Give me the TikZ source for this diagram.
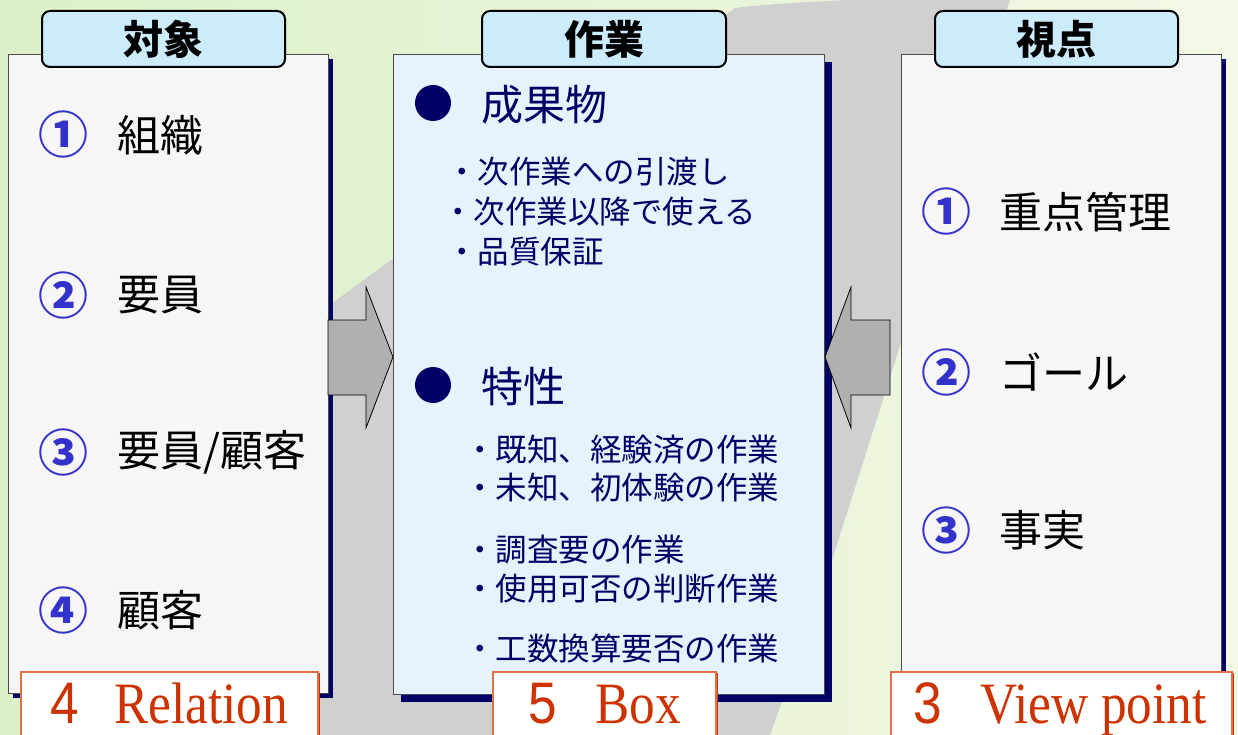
\documentclass[tikz,border=0pt]{standalone}
\usepackage{fontspec}
\newfontfamily\jp{Noto Sans CJK JP}
\newfontfamily\lserif{Liberation Serif}
\newfontfamily\lsans{Liberation Sans}
\definecolor{navy}{RGB}{0,0,102}
\definecolor{tabblue}{RGB}{204,236,252}
\definecolor{numblue}{RGB}{51,51,204}
\definecolor{panelgray}{RGB}{246,246,246}
\definecolor{panelblue}{RGB}{230,242,252}
\definecolor{bandgray}{RGB}{208,208,208}
\definecolor{lblred}{RGB}{204,51,0}
\definecolor{lblorange}{RGB}{230,110,70}
\definecolor{arrowgray}{RGB}{176,176,176}
\definecolor{bgleft}{RGB}{220,240,200}
\definecolor{bgright}{RGB}{242,248,230}
\tikzset{
  panel/.style={draw=black!70, line width=1pt, anchor=north west, inner sep=0},
  tabbox/.style={draw=black, line width=2pt, fill=tabblue, rounded corners=8pt, anchor=north west, inner sep=0, font=\jp\bfseries\fontsize{40}{44}\selectfont},
  num/.style={anchor=center, inner sep=0, text=numblue, font=\jp\bfseries\fontsize{50}{54}\selectfont},
  item/.style={anchor=west, inner sep=0, text=black, font=\jp\fontsize{43}{48}\selectfont},
  head/.style={anchor=west, inner sep=0, text=navy, font=\jp\fontsize{42}{46}\selectfont},
  sub/.style={anchor=west, inner sep=0, text=navy, font=\jp\fontsize{31.5}{36}\selectfont},
  dotmark/.style={circle, fill=navy, inner sep=0, minimum size=36pt},
  lblbox/.style={draw=lblorange, line width=1.5pt, fill=white, anchor=north west, inner sep=0},
  lblnum/.style={anchor=base west, inner sep=0, text=lblred, font=\lsans\fontsize{48}{52}\selectfont},
  lbltxt/.style={anchor=base west, inner sep=0, text=lblred, font=\lserif\fontsize{48}{52}\selectfont},
  blockarrow/.style={draw=black, line width=0.8pt, fill=arrowgray, line join=miter}
}
\newcommand{\tallr}[1]{\scalebox{1.07}[1.22]{#1}}
\begin{document}
\begin{tikzpicture}[x=1pt,y=-1pt]
\useasboundingbox (0,0) rectangle (1238,735);
% background
\shade[left color=bgleft, right color=bgright] (0,0) rectangle (1238,735);
\fill[bandgray] (735,8) .. controls (800,0) and (950,-5) .. (1010,0) -- (832,560) -- (770,735) -- (200,735) -- (200,400) -- cycle;

% shadows
\fill[navy] (13,59) rectangle (333,698);
\fill[navy] (401,62) rectangle (832,702);
\fill[navy] (906,59) rectangle (1226,695);

% panels
\node[panel, fill=panelgray, minimum width=320pt, minimum height=639pt] (L) at (8,54) {};
\node[panel, fill=panelblue, minimum width=431pt, minimum height=640pt] (M) at (393,54) {};
\node[panel, fill=panelgray, minimum width=320pt, minimum height=636pt] (R) at (901,54) {};

% tabs
\node[tabbox, minimum width=243pt, minimum height=56pt] (tL) at (41,10) {対象};
\node[tabbox, minimum width=244pt, minimum height=56pt] (tM) at (481,10) {作業};
\node[tabbox, minimum width=243pt, minimum height=56pt] (tR) at (934,10) {視点};

% block arrows
\draw[blockarrow] (328,320) -- (366,320) -- (366,287) -- (M.west |- 0,357) -- (366,428) -- (366,395) -- (328,395) -- cycle;
\draw[blockarrow] (890,320) -- (851,320) -- (851,287) -- (M.east |- 0,357) -- (851,428) -- (851,395) -- (890,395) -- cycle;

% left items
\node[num] (ln1) at (63,135) {①};
\node[item] (li1) at (117,135) {組織};
\node[num] (ln2) at (63,295) {②};
\node[item] (li2) at (117,295) {要員};
\node[num] (ln3) at (63,452) {③};
\node[item] (li3) at (117,452) {要員/顧客};
\node[num] (ln4) at (63,610) {④};
\node[item] (li4) at (117,610) {顧客};

% middle
\node[dotmark] (d1) at (433,103) {};
\node[head] (h1) at (481,105) {成果物};
\node[sub] (s1) at (446,172) {・次作業への引渡し};
\node[sub] (s2) at (442,212) {・次作業以降で使える};
\node[sub] (s3) at (446,252) {・品質保証};
\node[dotmark] (d2) at (433,385) {};
\node[head] (h2) at (481,387) {特性};
\node[sub] (s4) at (464,450) {・既知、経験済の作業};
\node[sub] (s5) at (464,488) {・未知、初体験の作業};
\node[sub] (s6) at (464,550) {・調査要の作業};
\node[sub] (s7) at (464,589) {・使用可否の判断作業};
\node[sub] (s8) at (464,648) {・工数換算要否の作業};

% right items
\node[num] (rn1) at (946,212) {①};
\node[item] (ri1) at (999,212) {重点管理};
\node[num] (rn2) at (946,372) {②};
\node[item] (ri2) at (999,372) {ゴール};
\node[num] (rn3) at (946,530) {③};
\node[item] (ri3) at (999,530) {事実};

% bottom labels
\fill[lblred] (317,673) rectangle (320,740);
\fill[lblred] (715,673) rectangle (718,740);
\fill[lblred] (1231,673) rectangle (1234,740);
\node[lblbox, minimum width=297pt, minimum height=70pt] (bL) at (20,671) {};
\node[lblbox, minimum width=223pt, minimum height=70pt] (bM) at (492,671) {};
\node[lblbox, minimum width=341pt, minimum height=70pt] (bR) at (890,671) {};
\node[lblnum] (bLn) at (50,723) {\tallr{4}};
\node[lbltxt] (bLt) at (114,723) {\tallr{Relation}};
\node[lblnum] (bMn) at (528,723) {\tallr{5}};
\node[lbltxt] (bMt) at (595,723) {\tallr{Box}};
\node[lblnum] (bRn) at (913,723) {\tallr{3}};
\node[lbltxt] (bRt) at (980,723) {\tallr{View point}};
\end{tikzpicture}
\end{document}
